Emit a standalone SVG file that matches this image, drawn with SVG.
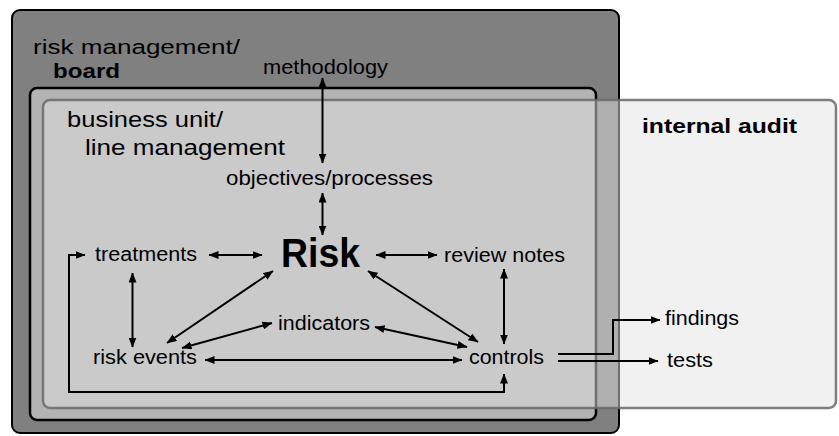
<svg xmlns="http://www.w3.org/2000/svg" width="839" height="436" viewBox="0 0 839 436">
<style>
text{font-family:"Liberation Sans",Arial,sans-serif;fill:#000}
.l{font-size:20px}
.b{font-weight:bold}
.c{fill:none;stroke:#000;stroke-width:2}
</style>
<defs>
<marker id="ah" viewBox="0 0 10 8" markerWidth="10" markerHeight="8" refX="9.5" refY="4" orient="auto-start-reverse" markerUnits="userSpaceOnUse">
<path d="M0,0 L10,4 L0,8 z" fill="#000"/>
</marker>
</defs>
<rect width="839" height="436" fill="#fff"/>
<g id="board">
<rect x="12" y="10" width="607" height="423" rx="8" fill="#808080" stroke="#000" stroke-width="2"/>
<text x="33" y="54" class="l" textLength="207" lengthAdjust="spacingAndGlyphs">risk management/</text>
<text x="53" y="78" class="l b" textLength="67" lengthAdjust="spacingAndGlyphs">board</text>
</g>
<g id="business-unit">
<rect x="30" y="88" width="566" height="332" rx="7" fill="#b3b3b3" stroke="#000" stroke-width="2.5"/>
</g>
<g id="internal-audit">
<rect x="43" y="100" width="793" height="308" rx="7" fill="#e2e2e2" fill-opacity="0.49" stroke="#6a6a6a" stroke-opacity="0.85" stroke-width="2.5"/>
<text x="642" y="133" class="l b" textLength="155" lengthAdjust="spacingAndGlyphs">internal audit</text>
</g>
<g id="business-unit-label">
<text x="67" y="127" style="font-size:22px" textLength="156" lengthAdjust="spacingAndGlyphs">business unit/</text>
<text x="85" y="155" style="font-size:22px" textLength="200" lengthAdjust="spacingAndGlyphs">line management</text>
</g>
<g id="methodology"><text x="263" y="74" class="l" textLength="125" lengthAdjust="spacingAndGlyphs">methodology</text></g>
<g id="objectives"><text x="226" y="185" class="l" textLength="207" lengthAdjust="spacingAndGlyphs">objectives/processes</text></g>
<g id="risk"><text x="281" y="267" style="font-size:40px" class="b" textLength="79" lengthAdjust="spacingAndGlyphs">Risk</text></g>
<g id="treatments"><text x="95" y="261" class="l" textLength="102" lengthAdjust="spacingAndGlyphs">treatments</text></g>
<g id="review-notes"><text x="444" y="262" class="l" textLength="121" lengthAdjust="spacingAndGlyphs">review notes</text></g>
<g id="indicators"><text x="278" y="330" class="l" textLength="92" lengthAdjust="spacingAndGlyphs">indicators</text></g>
<g id="risk-events"><text x="93" y="364" class="l" textLength="104" lengthAdjust="spacingAndGlyphs">risk events</text></g>
<g id="controls"><text x="469" y="364" class="l" textLength="75" lengthAdjust="spacingAndGlyphs">controls</text></g>
<g id="findings"><text x="665" y="325" class="l" textLength="74" lengthAdjust="spacingAndGlyphs">findings</text></g>
<g id="tests"><text x="667" y="367" class="l" textLength="46" lengthAdjust="spacingAndGlyphs">tests</text></g>
<g id="connectors">
<line class="c" x1="322.5" y1="78" x2="322.5" y2="163" marker-start="url(#ah)" marker-end="url(#ah)"/>
<line class="c" x1="322.5" y1="193" x2="322.5" y2="235" marker-start="url(#ah)" marker-end="url(#ah)"/>
<line class="c" x1="209" y1="255" x2="262" y2="255" marker-start="url(#ah)" marker-end="url(#ah)"/>
<line class="c" x1="376" y1="255" x2="437" y2="255" marker-start="url(#ah)" marker-end="url(#ah)"/>
<line class="c" x1="132.5" y1="273" x2="132.5" y2="347" marker-start="url(#ah)" marker-end="url(#ah)"/>
<line class="c" x1="273" y1="271" x2="167" y2="343" marker-start="url(#ah)" marker-end="url(#ah)"/>
<line class="c" x1="272" y1="323" x2="182" y2="348" marker-start="url(#ah)" marker-end="url(#ah)"/>
<line class="c" x1="205" y1="360" x2="462" y2="360" marker-start="url(#ah)" marker-end="url(#ah)"/>
<line class="c" x1="368" y1="271" x2="478" y2="342" marker-start="url(#ah)" marker-end="url(#ah)"/>
<line class="c" x1="375" y1="327" x2="467" y2="347" marker-start="url(#ah)" marker-end="url(#ah)"/>
<line class="c" x1="504" y1="269" x2="504" y2="344" marker-start="url(#ah)" marker-end="url(#ah)"/>
<polyline class="c" points="85,255 69,255 69,392 504,392 504,374" marker-start="url(#ah)" marker-end="url(#ah)"/>
<polyline class="c" points="558,354 613,354 613,320 660,320" marker-end="url(#ah)"/>
<line class="c" x1="558" y1="361" x2="658" y2="361" marker-end="url(#ah)"/>
</g>
</svg>
